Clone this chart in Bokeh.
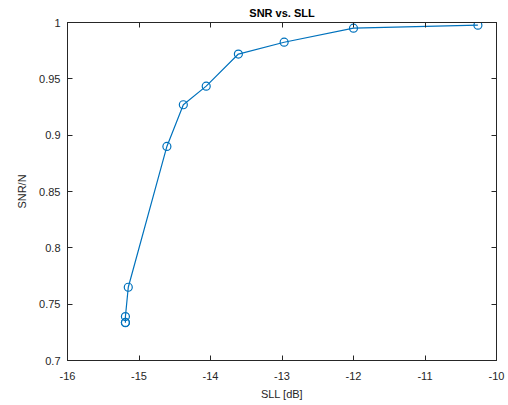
from bokeh.plotting import figure
from bokeh.models import LinearAxis, FixedTicker, Range1d
from bokeh.embed import file_html
from bokeh.resources import INLINE

sll_db = [-15.19, -15.19, -15.19, -15.15, -14.61, -14.38, -14.06, -13.61, -12.97, -12.00, -10.26]
snr_n = [0.7335, 0.7338, 0.739, 0.765, 0.890, 0.927, 0.9435, 0.972, 0.9825, 0.995, 0.9976]

x_ticks = [-16, -15, -14, -13, -12, -11, -10]
x_labels = ["-16", "-15", "-14", "-13", "-12", "-11", "-10"]
y_ticks = [0.7, 0.75, 0.8, 0.85, 0.9, 0.95, 1.0]
y_labels = ["0.7", "0.75", "0.8", "0.85", "0.9", "0.95", "1"]

FONT = "Liberation Sans"
AX = "#262626"
BLUE = "#0072BD"

p = figure(width=508, height=405, output_backend="svg", toolbar_location=None,
           x_range=Range1d(-16, -10), y_range=Range1d(0.7, 1.0),
           x_axis_location=None, y_axis_location=None,
           min_border_left=67, min_border_right=12, min_border_top=22, min_border_bottom=45,
           frame_width=429, frame_height=338)
p.background_fill_color = "white"
p.border_fill_color = "white"
p.outline_line_color = AX
p.outline_line_width = 1
p.xgrid.visible = False
p.ygrid.visible = False

p.title.text = "SNR vs. SLL"
p.title.align = "center"
p.title.text_font = FONT
p.title.text_font_size = "11px"
p.title.text_font_style = "bold"
p.title.text_color = "black"
p.title.standoff = 8

def style(ax, show_labels):
    ax.major_tick_in = 5
    ax.major_tick_out = 0
    ax.minor_tick_line_color = None
    ax.axis_line_color = AX
    ax.major_tick_line_color = AX
    ax.major_label_text_font = FONT
    ax.major_label_text_font_size = "11px"
    ax.major_label_text_color = AX
    ax.axis_label_text_font = FONT
    ax.axis_label_text_font_size = "11px"
    ax.axis_label_text_font_style = "normal"
    ax.axis_label_text_color = AX
    if not show_labels:
        ax.major_label_text_font_size = "0px"
        ax.major_label_text_color = None

xb = LinearAxis(ticker=FixedTicker(ticks=x_ticks), axis_label="SLL [dB]")
xb.major_label_overrides = dict(zip(x_ticks, x_labels))
style(xb, True)
xb.major_label_standoff = 11
xb.axis_label_standoff = 5
p.add_layout(xb, "below")

yl = LinearAxis(ticker=FixedTicker(ticks=y_ticks), axis_label="SNR/N")
yl.major_label_overrides = dict(zip(y_ticks, y_labels))
style(yl, True)
yl.major_label_standoff = 7
yl.axis_label_standoff = 8
p.add_layout(yl, "left")

xt = LinearAxis(ticker=FixedTicker(ticks=x_ticks))
style(xt, False)
xt.major_label_standoff = 0
p.add_layout(xt, "above")

yr = LinearAxis(ticker=FixedTicker(ticks=y_ticks))
style(yr, False)
yr.major_label_standoff = 0
p.add_layout(yr, "right")

p.line(sll_db, snr_n, line_color=BLUE, line_width=1.2)
p.scatter(sll_db, snr_n, marker="circle", size=8, fill_color=None, line_color=BLUE, line_width=1.2)

open("out.html", "w").write(file_html(p, INLINE))
